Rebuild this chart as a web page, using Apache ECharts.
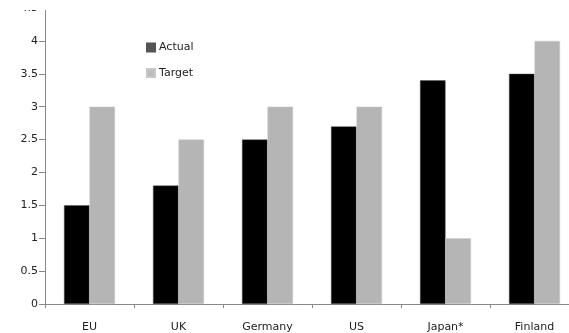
<!DOCTYPE html>
<html><head><meta charset="utf-8">
<script src="https://cdn.jsdelivr.net/npm/echarts@6/dist/echarts.min.js"></script>
<style>html,body{margin:0;padding:0;background:#fff;overflow:hidden}#c{width:579px;height:333px}</style>
</head><body><div id="c"></div>
<script>
const categories = ['EU', 'UK', 'Germany', 'US', 'Japan*', 'Finland'];
const actual = [1.5, 1.8, 2.5, 2.7, 3.4, 3.5];
const target = [3, 2.5, 3, 3, 1, 4];
const yTicks = ['0', '0.5', '1', '1.5', '2', '2.5', '3', '3.5', '4', '4.5'];

const chart = echarts.init(document.getElementById('c'), null, {renderer: 'canvas'});
const font = 'Verdana, "DejaVu Sans", sans-serif';
chart.setOption({
  animation: false,
  backgroundColor: '#fff',
  grid: {left: 45, top: 8, right: 0, bottom: 27, containLabel: false},
  legend: {
    orient: 'vertical', left: 141, top: 37, itemWidth: 8, itemHeight: 8, itemGap: 14.5,
    icon: 'rect',
    textStyle: {fontFamily: font, fontSize: 11, color: '#222', padding: [0, 0, 0, -1]},
    data: [
      {name: 'Actual', itemStyle: {color: '#555555'}},
      {name: 'Target', itemStyle: {color: '#bdbdbd'}}
    ]
  },
  xAxis: {
    type: 'category', data: categories,
    axisLine: {lineStyle: {color: '#888', width: 1}},
    axisTick: {show: true, length: 4, lineStyle: {color: '#888'}},
    axisLabel: {margin: 18, fontFamily: font, fontSize: 11, color: '#222'}
  },
  yAxis: {
    type: 'value', min: 0, max: 4.5, interval: 0.5,
    splitLine: {show: false},
    axisLine: {show: true, lineStyle: {color: '#888', width: 1}},
    axisTick: {show: true, length: 6, lineStyle: {color: '#888'}},
    axisLabel: {margin: 7, fontFamily: font, fontSize: 11, color: '#222',
      formatter: (v) => yTicks[Math.round(v * 2)]}
  },
  series: [
    {name: 'Actual', type: 'bar', data: actual, barWidth: 25.5, barGap: '0%',
      itemStyle: {color: '#000', borderColor: '#555', borderWidth: 0.5}},
    {name: 'Target', type: 'bar', data: target, barWidth: 25.5,
      itemStyle: {color: '#b5b5b5', borderColor: '#c8c8c8', borderWidth: 0.5}}
  ],
  graphic: [{type: 'rect', left: 0, top: 0, z: 100, shape: {width: 579, height: 10}, style: {fill: '#fff'}}]
});
</script></body></html>
